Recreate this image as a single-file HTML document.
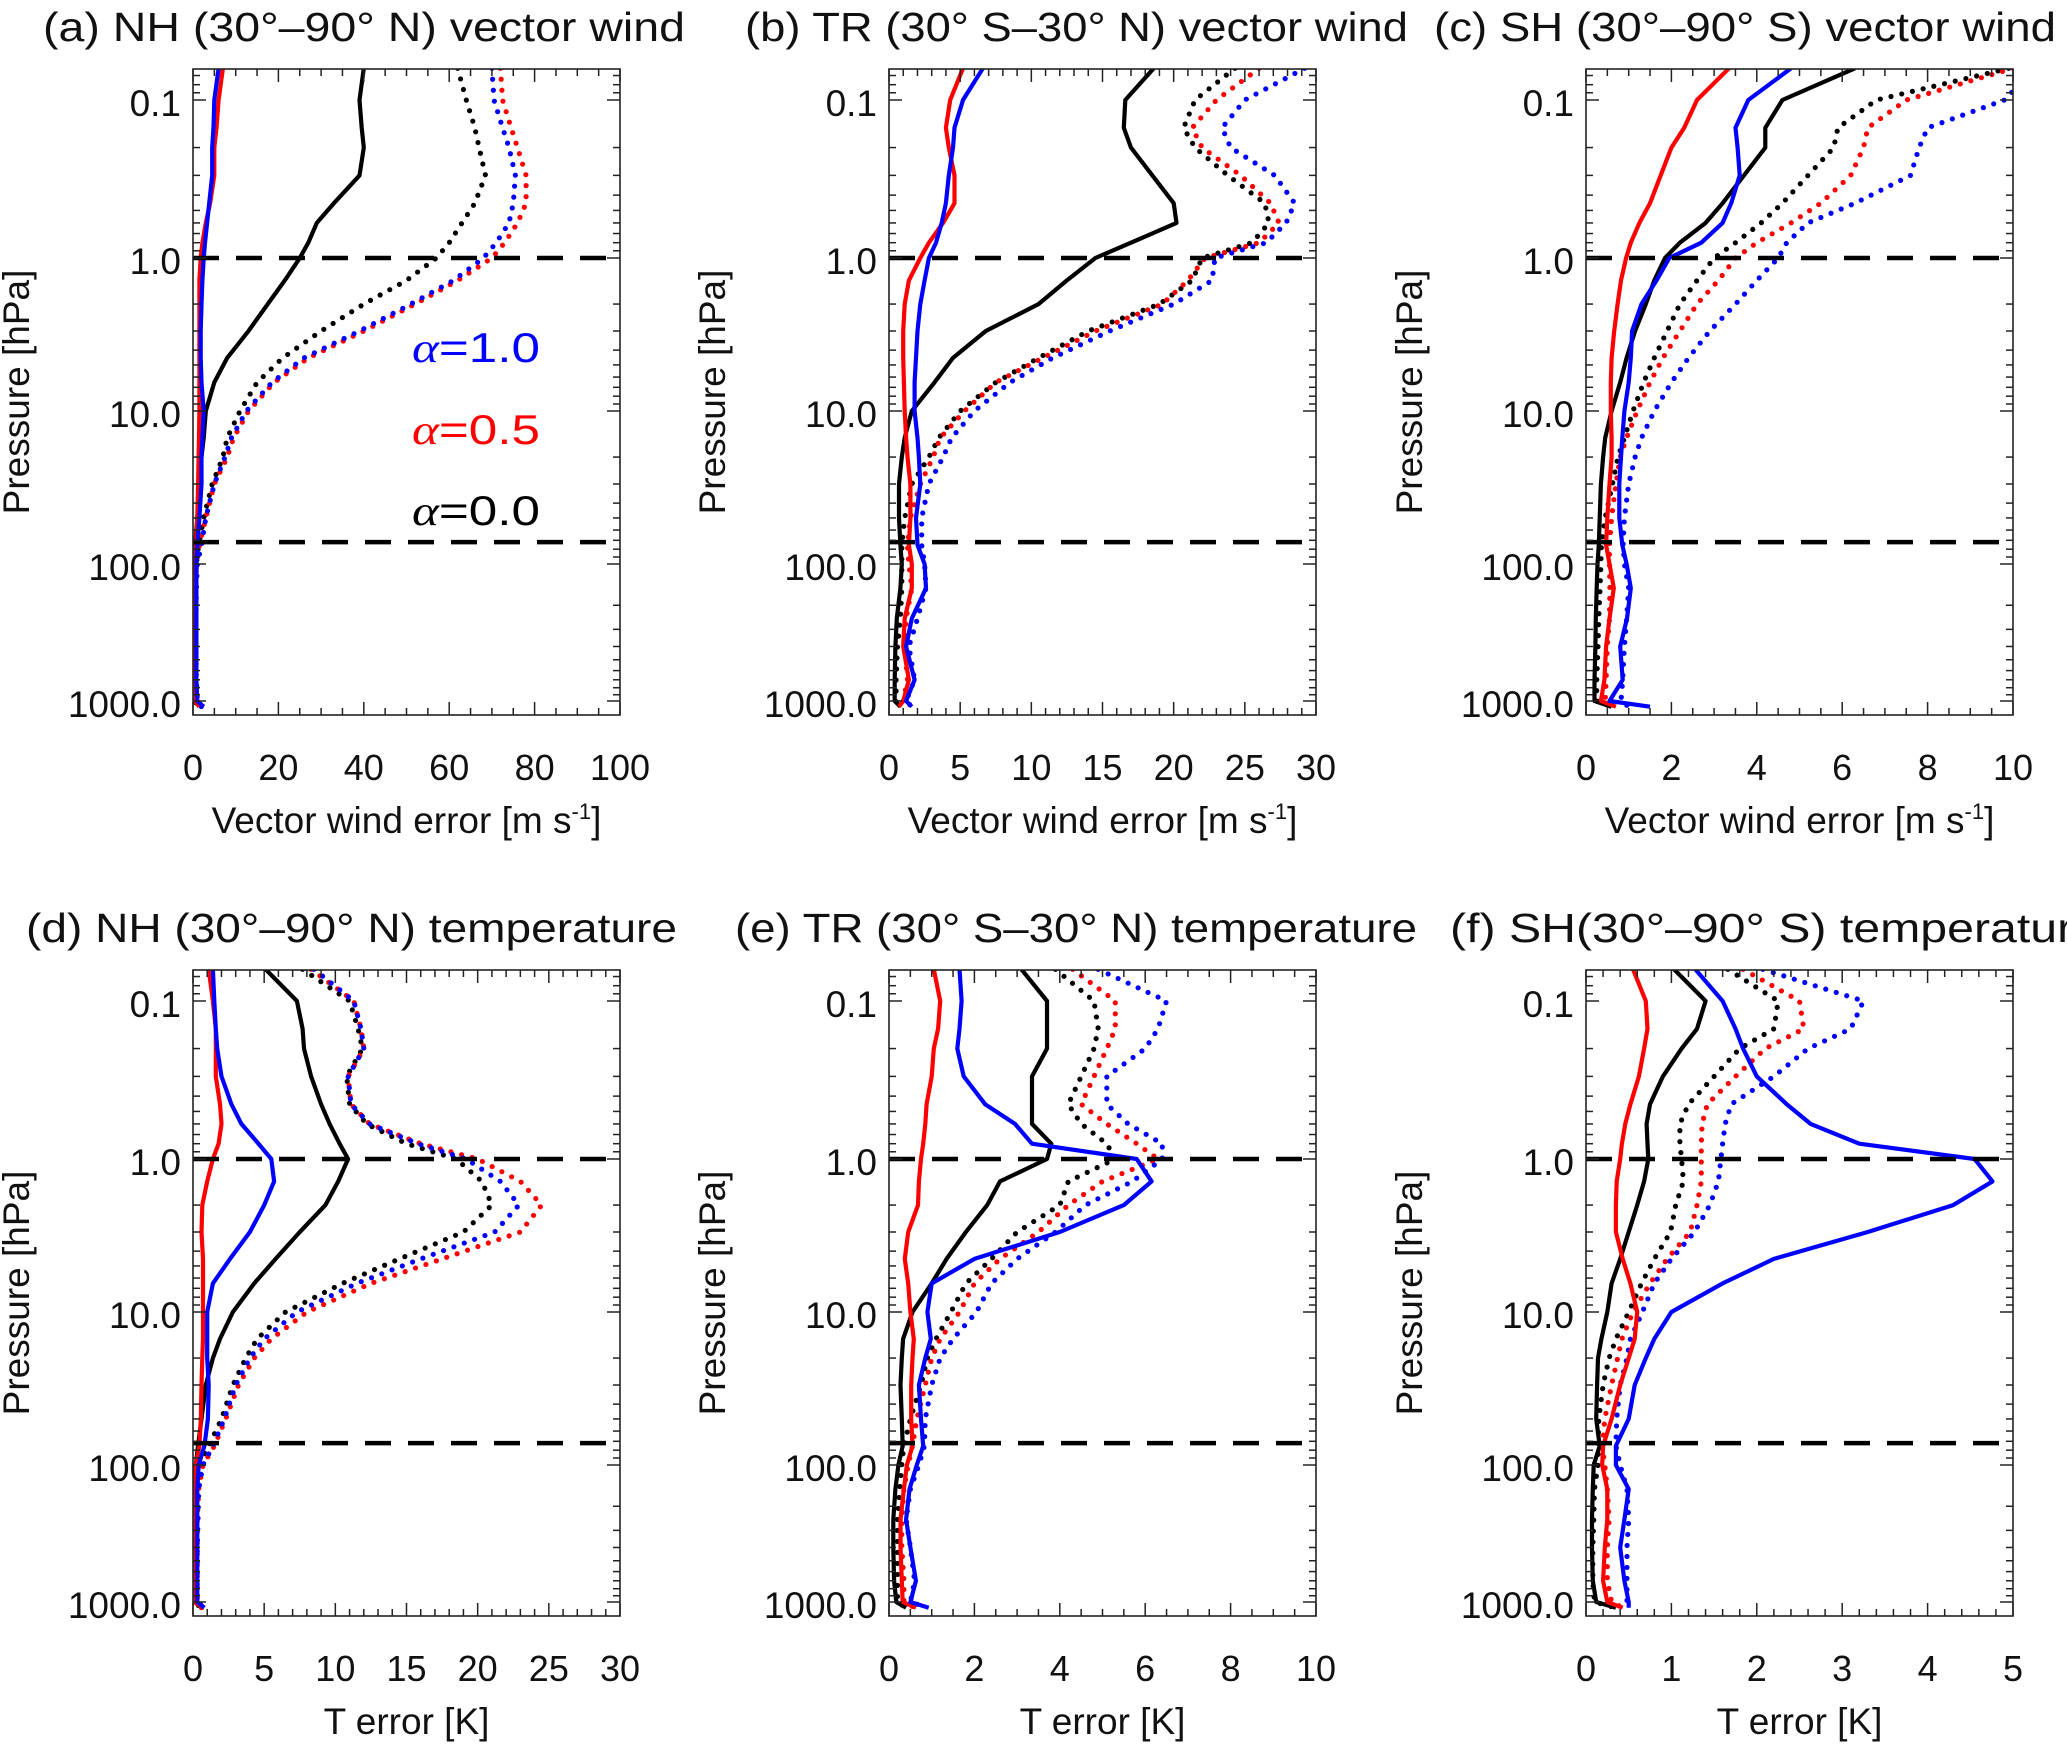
<!DOCTYPE html>
<html><head><meta charset="utf-8"><style>
html,body{margin:0;padding:0;background:#fff;}
svg{display:block;}
text{font-family:"Liberation Sans",sans-serif;fill:#111;}
</style></head><body>
<svg id="fig" width="2067" height="1744" viewBox="0 0 2067 1744" xmlns="http://www.w3.org/2000/svg"></svg>
<script>
// pressure levels (hPa) shared by all panels
const pressureLevels = [0.063,0.1,0.15,0.2,0.3,0.45,0.6,0.8,1,1.4,2,3,4.5,6.5,10,15,20,30,50,75,100,150,250,400,700,1000,1100];
const yTickValues = [0.1,1,10,100,1000];
const yTickLabels = ["0.1","1.0","10.0","100.0","1000.0"];
const dashedLevels = [1, 72];

// panel (a) NH vector wind
const aBlack = [40,39,39.5,40,39,33,29,27,25,21.5,17.5,13,8,5,3,2.5,2,1.5,1,0.5,0.3,0.2,0.2,0.2,0.2,0.5,1.5];
const aBlackDot = [62,64,66,67,68.5,66,63,60,57,50,40,30,21,15,11,8,7,4.5,2.5,1.3,0.8,0.6,0.5,0.5,0.5,0.6,1];
const aRedDot = [72,72.5,74.5,76,78,78,76,73,70,62,52,40,27,19,13,9.5,8,5,3,1.5,0.8,0.6,0.5,0.5,0.5,0.6,1];
const aBlueDot = [70,70.5,72.5,74,75.5,75,74,71,68,61,51,39,26,18.5,12.5,9,7.5,5,3,2,1,0.8,0.7,0.7,0.8,1,2];
const aRed = [7,6,5.5,5,5,4,3,2.2,1.8,1.5,1.5,1.5,1.5,1.5,1.5,1.4,1.3,1.2,1,0.7,0.3,0.2,0.2,0.2,0.2,0.5,1.5];
const aBlue = [6,5,4.8,4.5,4.5,3.8,3.3,2.8,2.5,2.2,2,1.8,1.8,2,2.5,2.2,2,2,1.5,1,0.8,0.8,0.8,0.8,0.8,1,2.5];
// panel (b) TR vector wind
const bBlack = [18.6,16.6,16.5,17,18.5,20,20.2,17,14.5,12.5,10.5,6.8,4.5,3.2,1.6,1.1,0.9,0.7,0.7,0.8,0.9,0.8,0.55,0.45,0.4,0.4,0.8];
const bBlackDot = [24.3,21.5,20.7,21.5,23.8,26.4,26.7,25.5,22,21.3,19,14,10.5,7.5,5,3.5,2.8,1.6,1.1,0.9,0.9,0.9,0.8,0.6,0.5,0.5,0.8];
const bRedDot = [26,23,21.3,22,24.7,26.8,27.4,26,22.2,21,19.2,14.5,10.8,7.5,5.3,3.6,3.1,2.2,1.5,1.3,1.4,1.6,1.2,1.1,1.3,1,0.8];
const bBlueDot = [29.2,25,23.4,24,27.1,28.5,27.9,26.5,22.9,22.7,20,15.5,11.5,8.5,6,4.4,3.8,2.8,2.3,2.3,2.5,2.6,2.0,1.4,1.8,1.2,1.6];
const bRed = [5.2,4.3,4,4.2,4.6,4.6,3.8,2.8,2.2,1.4,1.1,1,1,1.05,1.1,1.2,1.3,1.5,1.5,1.4,1.6,1.6,1.1,1.0,1.4,1.0,0.7];
const bBlue = [6.6,5.2,4.6,4.5,4.2,4,3.7,3.3,2.8,2.5,2.2,2,1.9,1.8,1.8,2,2.1,2.2,1.9,2,2.5,2.6,1.6,1.2,1.8,1.2,1.6];
// panel (c) SH vector wind
const cBlack = [6.3,4.6,4.2,4.2,3.7,3.2,2.8,2.2,1.85,1.6,1.4,1.15,0.95,0.8,0.6,0.45,0.4,0.35,0.32,0.3,0.27,0.25,0.23,0.22,0.2,0.2,0.6];
const cBlackDot = [9.9,6.8,5.9,5.8,5.2,4.6,4.1,3.5,3.0,2.6,2.2,1.9,1.6,1.35,1.1,0.9,0.75,0.62,0.45,0.36,0.35,0.33,0.3,0.28,0.25,0.25,0.6];
const cRedDot = [10,7.5,6.6,6.5,6.2,5.5,4.8,4.0,3.5,3.1,2.6,2.2,1.8,1.5,1.2,0.95,0.8,0.7,0.6,0.55,0.55,0.56,0.55,0.5,0.47,0.45,0.5];
const cBlueDot = [10.5,9.8,8.0,7.8,7.6,6.3,5.2,4.7,4.5,4.0,3.5,2.9,2.4,2.0,1.6,1.3,1.15,1.0,0.9,0.87,0.9,1.0,0.95,0.9,0.86,0.82,1.0];
const cRed = [3.35,2.6,2.3,2.0,1.75,1.5,1.25,1.05,0.94,0.82,0.74,0.66,0.6,0.58,0.58,0.6,0.6,0.55,0.5,0.47,0.55,0.65,0.55,0.47,0.43,0.35,0.7];
const cBlue = [4.8,3.8,3.5,3.55,3.6,3.4,3.2,2.7,1.95,1.65,1.3,1.08,1.05,1.0,0.9,0.85,0.82,0.78,0.78,0.85,0.95,1.05,0.96,0.8,0.86,0.55,1.5];
// panel (d) NH temperature
const dBlack = [5.1,7.3,7.7,7.8,8.3,9.0,9.6,10.3,10.9,10.2,9.3,7.5,5.8,4.3,2.8,1.9,1.4,0.9,0.6,0.35,0.2,0.1,0.06,0.06,0.06,0.06,0.7];
const dBlackDot = [7.7,11.0,11.6,11.9,10.8,11,12.2,15,18.5,20.3,21,19,14.5,10.5,6.5,4.5,3.7,2.8,2,1.1,0.5,0.3,0.2,0.2,0.2,0.2,0.5];
const dRedDot = [8.3,11.3,11.8,12,10.9,11.1,12.4,16,20,23,24.5,23,17.5,12.5,8,5.5,4.3,3.2,2.3,1.5,0.7,0.4,0.3,0.3,0.3,0.3,0.6];
const dBlueDot = [8.5,11.3,11.8,12,10.9,11.1,12.4,15.8,19.2,21.6,22.9,21.2,16,11.5,7.3,5,4,3,2.2,1.4,0.7,0.4,0.35,0.3,0.3,0.3,0.8];
const dRed = [1.1,1.4,1.6,1.6,1.6,1.9,2.0,1.8,1.4,1.0,0.65,0.6,0.7,0.7,0.7,0.7,0.65,0.6,0.55,0.45,0.2,0.1,0.06,0.06,0.06,0.06,0.7];
const dBlue = [1.4,1.5,1.6,1.7,2.0,2.7,3.4,4.6,5.5,5.7,5.0,4.0,2.6,1.4,1.0,1.0,1.0,1.1,1.05,0.8,0.4,0.3,0.3,0.3,0.3,0.3,0.8];
// panel (e) TR temperature
const eBlack = [3.1,3.7,3.7,3.7,3.35,3.35,3.35,3.8,3.7,2.6,2.3,1.8,1.35,1.0,0.55,0.33,0.3,0.27,0.3,0.32,0.22,0.15,0.1,0.1,0.12,0.17,0.4];
const eBlackDot = [3.9,4.8,4.9,4.8,4.5,4.2,4.5,5.1,5.3,4.2,4.0,3.0,2.4,1.8,1.45,1.1,0.9,0.75,0.5,0.35,0.3,0.25,0.2,0.2,0.2,0.2,0.4];
const eRedDot = [4.3,5.3,5.3,5.1,4.8,4.5,5.1,5.8,6.3,5.0,4.2,3.5,2.6,2.0,1.65,1.2,1.0,0.85,0.65,0.55,0.45,0.35,0.3,0.3,0.35,0.35,0.6];
const eBlueDot = [4.9,6.5,6.3,6.0,5.1,5.1,5.6,6.4,6.4,5.7,4.6,3.9,3.0,2.4,2.05,1.5,1.2,1.0,0.85,0.83,0.7,0.5,0.4,0.5,0.6,0.5,0.9];
const eRed = [1.05,1.2,1.15,1.05,1.0,0.88,0.85,0.8,0.75,0.7,0.68,0.45,0.37,0.45,0.5,0.58,0.55,0.52,0.52,0.55,0.42,0.35,0.27,0.27,0.3,0.32,0.63];
const eBlue = [1.65,1.7,1.65,1.6,1.75,2.25,2.95,3.35,5.8,6.15,5.5,4.0,2.0,1.0,0.9,0.98,0.85,0.7,0.75,0.8,0.65,0.48,0.4,0.5,0.63,0.5,0.93];
// panel (f) SH temperature
const fBlack = [1.03,1.4,1.3,1.12,0.9,0.75,0.71,0.72,0.73,0.68,0.6,0.5,0.4,0.3,0.25,0.18,0.14,0.13,0.12,0.16,0.09,0.08,0.07,0.07,0.08,0.12,0.35];
const fBlackDot = [1.66,2.25,2.2,1.8,1.5,1.2,1.1,1.1,1.12,1.14,1.05,0.99,0.8,0.65,0.5,0.35,0.27,0.2,0.15,0.14,0.14,0.1,0.09,0.08,0.08,0.1,0.35];
const fRedDot = [1.84,2.5,2.55,2.1,1.75,1.42,1.36,1.35,1.35,1.35,1.3,1.22,0.95,0.75,0.55,0.42,0.37,0.3,0.22,0.19,0.22,0.25,0.27,0.25,0.25,0.3,0.43];
const fBlueDot = [2.07,3.25,3.1,2.6,2.2,1.7,1.63,1.6,1.58,1.55,1.45,1.27,1.0,0.8,0.66,0.52,0.48,0.4,0.36,0.35,0.4,0.48,0.5,0.48,0.48,0.48,0.5];
const fRed = [0.55,0.7,0.72,0.68,0.62,0.52,0.46,0.42,0.4,0.36,0.35,0.35,0.43,0.52,0.6,0.57,0.5,0.4,0.3,0.2,0.19,0.25,0.25,0.22,0.2,0.25,0.43];
const fBlue = [1.28,1.6,1.75,1.84,2.0,2.35,2.63,3.2,4.55,4.76,4.3,3.3,2.2,1.6,1.0,0.8,0.7,0.57,0.5,0.35,0.35,0.5,0.45,0.4,0.45,0.5,0.5];

const xMaxes = [100,30,10,30,10,5];
const xMajorSteps = [20,5,2,5,2,1];
const xMinorSteps = [5,1,0.5,1,0.5,0.2];
const panelTitles = ["(a)  NH (30°–90° N) vector wind","(b) TR (30° S–30° N) vector wind","(c)  SH (30°–90° S) vector wind","(d)  NH (30°–90° N) temperature","(e) TR (30° S–30° N) temperature","(f) SH(30°–90° S) temperature"];
const xTitles = ["Vector wind error [m s","Vector wind error [m s","Vector wind error [m s","T  error [K]","T  error [K]","T  error [K]"];
const legendLabels = ["1.0","0.5","0.0"];

const panelSeries = [
 [aBlackDot,aRedDot,aBlueDot,aBlack,aRed,aBlue],
 [bBlackDot,bRedDot,bBlueDot,bBlack,bRed,bBlue],
 [cBlackDot,cRedDot,cBlueDot,cBlack,cRed,cBlue],
 [dBlackDot,dRedDot,dBlueDot,dBlack,dRed,dBlue],
 [eBlackDot,eRedDot,eBlueDot,eBlack,eRed,eBlue],
 [fBlackDot,fRedDot,fBlueDot,fBlack,fRed,fBlue]];
const seriesNames = ["alpha-0.0-dotted","alpha-0.5-dotted","alpha-1.0-dotted","alpha-0.0-solid","alpha-0.5-solid","alpha-1.0-solid"];
const seriesColors = ["#000","#f00","#00f","#000","#f00","#00f"];

const NS = "http://www.w3.org/2000/svg";
const svg = document.getElementById("fig");
function mk(tag, attrs, parent){const e=document.createElementNS(NS,tag);for(const k in attrs)e.setAttribute(k,attrs[k]);(parent||svg).appendChild(e);return e;}

const panelLefts=[193,889,1586], rowTops=[69,970], PW=427, PH=646;
const anchorsLog=[-1,0,1,2,3], anchorsY=[31,189,342,495,632];
function yOf(p, top){
  const l=Math.log10(p); let i=0;
  if(l<=anchorsLog[0]) return top+anchorsY[0]+(l-anchorsLog[0])*158;
  if(l>=3) return top+anchorsY[4]+(l-3)*137;
  while(l>anchorsLog[i+1]) i++;
  const t=(l-anchorsLog[i])/(anchorsLog[i+1]-anchorsLog[i]);
  return top+anchorsY[i]+t*(anchorsY[i+1]-anchorsY[i]);
}

for(let k=0;k<6;k++){
  const L=panelLefts[k%3], T=rowTops[Math.floor(k/3)], R=L+PW, B=T+PH, xm=xMaxes[k];
  const xOf=v=>L+v/xm*PW;
  const g=mk("g",{});
  
  
  const cid="clip"+k;
  const cp=mk("clipPath",{id:cid},g); mk("rect",{x:L,y:T,width:PW,height:PH},cp);
  for(let s=0;s<6;s++){
    const vals=panelSeries[k][s];
    const d=vals.map((v,i)=>(i?"L":"M")+xOf(v).toFixed(1)+" "+yOf(pressureLevels[i],T).toFixed(1)).join(" ");
    const dotted=s<3;
    const pth=mk("path",{d:d,fill:"none",stroke:seriesColors[s],"stroke-width":dotted?5.2:4.2,"stroke-linecap":dotted?"round":"butt","stroke-linejoin":"round","stroke-dasharray":dotted?"0 11":"none","clip-path":"url(#"+cid+")"},g);
    
    
  }
  dashedLevels.forEach((p,i)=>{const y=yOf(p,T);const ln=mk("line",{x1:L,x2:R,y1:y,y2:y,stroke:"#000","stroke-width":4.5,"stroke-dasharray":"26 17"},g);
    
    });
  const fr=mk("rect",{x:L,y:T,width:PW,height:PH,fill:"none",stroke:"#222","stroke-width":1.6},g);
  
  
  for(let v=0;v<=xm+1e-9;v+=xMinorSteps[k]){
    const x=xOf(v); const major=Math.abs(v/xMajorSteps[k]-Math.round(v/xMajorSteps[k]))<1e-6; const len=major?13:7;
    mk("line",{x1:x,x2:x,y1:B,y2:B-len,stroke:"#222","stroke-width":1.5},g);
    mk("line",{x1:x,x2:x,y1:T,y2:T+len,stroke:"#222","stroke-width":1.5},g);
    if(major){const t=mk("text",{x:x,y:B+65,"font-size":36,"text-anchor":"middle"},g);t.textContent=String(Math.round(v));
      
      }
  }
  for(let dec=-2;dec<=3;dec++)for(let m=1;m<=9;m++){
    const p=m*Math.pow(10,dec); if(p<0.0637||p>1120) continue; const y=yOf(p,T); const len=m===1?13:7;
    mk("line",{x1:L,x2:L+len,y1:y,y2:y,stroke:"#222","stroke-width":1.5},g);
    mk("line",{x1:R,x2:R-len,y1:y,y2:y,stroke:"#222","stroke-width":1.5},g);
  }
  yTickValues.forEach((p,i)=>{const t=mk("text",{x:L-12,y:yOf(p,T)+16,"font-size":37,"text-anchor":"end"},g);t.textContent=yTickLabels[i];
    
    });
  const cy=T+323, cx=L-164;
  const yt=mk("text",{x:cx,y:cy,"font-size":37,"text-anchor":"middle",transform:"rotate(-90 "+cx+" "+cy+")"},g);
  yt.textContent="Pressure [hPa]";
  
  
  const xt=mk("text",{x:L+PW/2,y:B+118,"font-size":37,"text-anchor":"middle"},g);
  xt.textContent=xTitles[k];
  if(k<3){const ts=mk("tspan",{"font-size":22,dy:-14},xt);ts.textContent="-1";const ts2=mk("tspan",{dy:14},xt);ts2.textContent="]";}
  
  
  const titleX=[43,745,1434,26,735,1450][k], titleY=[41,41,41,942,942,942][k], titleW=[642,663,622,651,682,650][k];
  const tt=mk("text",{x:titleX,y:titleY,"font-size":41,textLength:titleW,lengthAdjust:"spacingAndGlyphs"},g);
  tt.textContent=panelTitles[k];
  
  
}
const legColors=["#00f","#f00","#000"], legY=[362,444,525];
legendLabels.forEach((lab,i)=>{
  const t=mk("text",{x:412,y:legY[i],"font-size":42,fill:legColors[i],textLength:128,lengthAdjust:"spacingAndGlyphs"});
  const a=mk("tspan",{"font-family":"Liberation Serif, serif","font-style":"italic",fill:legColors[i]},t); a.textContent="α";
  const b=mk("tspan",{fill:legColors[i]},t); b.textContent="="+lab;
  
  
});
</script>
</body></html>
